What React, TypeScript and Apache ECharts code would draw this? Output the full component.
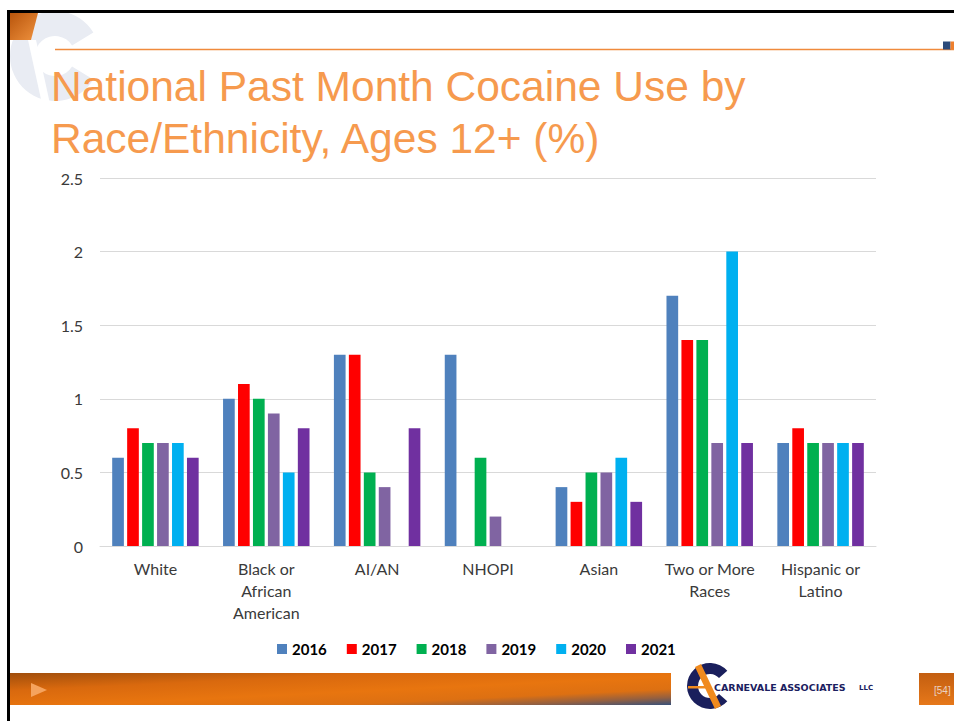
import React, { useEffect, useRef } from "react";
import * as echarts from "echarts";

// Past-month cocaine use (%) by race/ethnicity, survey years 2016–2021
const categories = [
  "White",
  "Black or\nAfrican\nAmerican",
  "AI/AN",
  "NHOPI",
  "Asian",
  "Two or More\nRaces",
  "Hispanic or\nLatino",
];
const years = ["2016", "2017", "2018", "2019", "2020", "2021"];
const v2016 = [0.6, 1.0, 1.3, 1.3, 0.4, 1.7, 0.7];
const v2017 = [0.8, 1.1, 1.3, null, 0.3, 1.4, 0.8];
const v2018 = [0.7, 1.0, 0.5, 0.6, 0.5, 1.4, 0.7];
const v2019 = [0.7, 0.9, 0.4, 0.2, 0.5, 0.7, 0.7];
const v2020 = [0.7, 0.5, null, null, 0.6, 2.0, 0.7];
const v2021 = [0.6, 0.8, 0.8, null, 0.3, 0.7, 0.7];
const seriesValues = [v2016, v2017, v2018, v2019, v2020, v2021];
const yearColors = ["#4F81BD", "#FF0000", "#00B050", "#8064A2", "#00B0F0", "#7030A0"];

const titleLines = ["National Past Month Cocaine Use by", "Race/Ethnicity, Ages 12+ (%)"];

export default function App() {
  const ref = useRef<HTMLDivElement>(null);

  useEffect(() => {
    if (!ref.current) return;
    const chart = echarts.init(ref.current, null, { renderer: "svg" });

    const graphics: any[] = [
      // slide frame
      { type: "rect", shape: { x: 7, y: 10, width: 947, height: 3 }, style: { fill: "#000" }, z: 10 },
      { type: "rect", shape: { x: 7, y: 10, width: 3, height: 711 }, style: { fill: "#000" }, z: 10 },
      // faint corner emblem
      {
        type: "sector",
        shape: { cx: 55, cy: 56, r: 45, r0: 20, startAngle: 0.55, endAngle: Math.PI * 2 - 0.55, clockwise: true },
        style: { fill: "#E9ECF3" },
        z: 1,
      },
      {
        type: "polygon",
        shape: { points: [[28, 40], [36, 40], [50, 104], [42, 104]] },
        style: { fill: "#FFFFFF" },
        z: 2,
      },
      {
        type: "polygon",
        shape: { points: [[10, 13], [38, 13], [31, 40], [10, 40]] },
        style: {
          fill: new echarts.graphic.LinearGradient(0, 0, 1, 1, [
            { offset: 0, color: "#B8550C" },
            { offset: 1, color: "#F0923E" },
          ]),
        },
        z: 3,
      },
      // header rule
      { type: "line", shape: { x1: 55, y1: 49.5, x2: 954, y2: 49.5 }, style: { stroke: "#F08A3C", lineWidth: 1.5 }, z: 3 },
      { type: "rect", shape: { x: 943, y: 41.5, width: 7.5, height: 8 }, style: { fill: "#2B4A7A" }, z: 4 },
      { type: "rect", shape: { x: 950.5, y: 41.5, width: 4, height: 8 }, style: { fill: "#EE7F2D" }, z: 4 },
      // title
      ...titleLines.map((t, i) => ({
        type: "text",
        x: 51,
        y: 86 + i * 52,
        style: {
          text: t,
          fill: "#F69A4E",
          font: "42.5px 'Liberation Sans', Arial, sans-serif",
          verticalAlign: "middle",
          align: "left",
        },
        z: 5,
      })),
      // footer bar
      {
        type: "rect",
        shape: { x: 10, y: 673, width: 661, height: 32 },
        style: {
          fill: new echarts.graphic.LinearGradient(0, 0, 1, 1, [
            { offset: 0, color: "#A04E0C" },
            { offset: 0.28, color: "#D9690E" },
            { offset: 0.55, color: "#E8750F" },
            { offset: 0.75, color: "#DD7012" },
            { offset: 0.88, color: "#96603F" },
            { offset: 1, color: "#37507A" },
          ]),
        },
        z: 3,
      },
      {
        type: "polygon",
        shape: { points: [[31, 683], [47, 690], [31, 697]] },
        style: { fill: "#F5A35E" },
        z: 4,
      },
      // page number box
      {
        type: "rect",
        shape: { x: 919, y: 673, width: 35, height: 32 },
        style: {
          fill: new echarts.graphic.LinearGradient(0, 0, 0, 1, [
            { offset: 0, color: "#C35E10" },
            { offset: 1, color: "#E6781A" },
          ]),
        },
        z: 3,
      },
      {
        type: "text",
        x: 934,
        y: 690,
        style: { text: "[54]", fill: "#EAD2C2", font: "10px 'Liberation Sans', Arial, sans-serif", verticalAlign: "middle" },
        z: 4,
      },
      // company mark
      {
        type: "sector",
        shape: { cx: 710, cy: 686, r: 23, r0: 12, startAngle: 0.72, endAngle: Math.PI * 2 - 0.72, clockwise: true },
        style: { fill: "#1A1F5C" },
        z: 4,
      },
      {
        type: "polygon",
        shape: { points: [[695, 667], [701, 664], [721, 706], [715, 709]] },
        style: { fill: "#F08A1E" },
        z: 5,
      },
      {
        type: "rect",
        shape: { x: 688, y: 686, width: 22, height: 2.5 },
        style: { fill: "#F08A1E" },
        z: 5,
      },
      {
        type: "text",
        x: 714,
        y: 687,
        style: {
          text: "CARNEVALE ASSOCIATES",
          fill: "#1B2060",
          font: "bold 9.5px 'DejaVu Sans', sans-serif",
          verticalAlign: "middle",
        },
        z: 5,
      },
      {
        type: "text",
        x: 859,
        y: 688,
        style: { text: "LLC", fill: "#1B2060", font: "bold 7px 'DejaVu Sans', sans-serif", verticalAlign: "middle" },
        z: 5,
      },
    ];

    chart.setOption({
      animation: false,
      backgroundColor: "#FFFFFF",
      grid: { left: 100, right: 78, top: 178, bottom: 175 },
      legend: {
        left: 272,
        top: 636,
        itemWidth: 10,
        itemHeight: 10,
        itemGap: 20,
        icon: "rect",
        data: years,
        textStyle: {
          fontFamily: "Lato, 'Open Sans', sans-serif",
          fontWeight: "bold",
          fontSize: 15,
          color: "#000",
          lineHeight: 16,
        },
      },
      xAxis: {
        type: "category",
        data: categories,
        axisTick: { show: false },
        axisLine: { lineStyle: { color: "#D9D9D9", width: 1 } },
        axisLabel: {
          interval: 0,
          margin: 11,
          color: "#3A3A3A",
          fontFamily: "Lato, sans-serif",
          fontSize: 16,
          lineHeight: 22,
        },
      },
      yAxis: {
        type: "value",
        min: 0,
        max: 2.5,
        interval: 0.5,
        axisLine: { show: false },
        axisTick: { show: false },
        splitLine: { lineStyle: { color: "#D9D9D9", width: 1 } },
        axisLabel: {
          margin: 17,
          color: "#3A3A3A",
          fontFamily: "Lato, sans-serif",
          fontSize: 16,
        },
      },
      series: years.map((y, i) => ({
        name: y,
        type: "bar",
        data: seriesValues[i],
        barGap: "28%",
        barCategoryGap: "22%",
        itemStyle: { color: yearColors[i] },
      })),
      graphic: graphics,
    });

    return () => chart.dispose();
  }, []);

  return (
    <div
      ref={ref}
      style={{ position: "fixed", left: 0, top: 0, width: 954, height: 721, background: "#fff" }}
    />
  );
}
